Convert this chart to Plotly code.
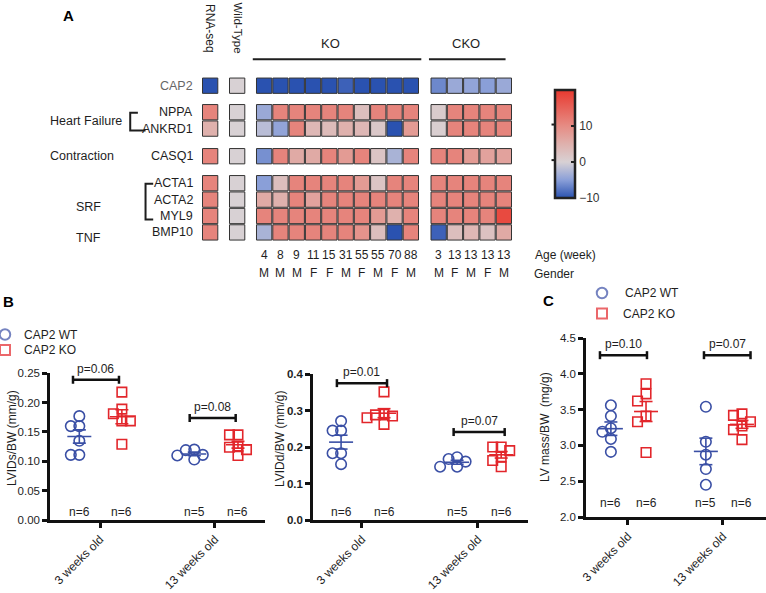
import numpy as np
import plotly.graph_objects as go

W, H = 766, 593
FONT = "Liberation Sans, Arial, Helvetica, sans-serif"
BLUE = "#3a4fa5"
RED = "#e2262b"
INK = "#1e1e1e"

# ---------------- data: heatmap (panel A) ----------------
genes = ["CAP2", "NPPA", "ANKRD1", "CASQ1", "ACTA1", "ACTA2", "MYL9", "BMP10"]
rna_seq = [-10, 11, 5, 11, 11, 11, 11, 11]
wild_type = [0, 0, 0, 0, 0, 0, 0, 0]
ko_age = [4, 8, 9, 11, 15, 31, 55, 55, 70, 88]
ko_gender = ["M", "M", "M", "F", "F", "M", "F", "M", "F", "M"]
cko_age = [3, 13, 13, 13, 13]
cko_gender = ["M", "F", "M", "F", "M"]
ko_values = [
    [-10, -10, -10, -10, -10, -9, -10, -10, -10, -10],   # CAP2
    [-4, 11, 11, 11, 11, 11, 3, 11, 11, 11],             # NPPA
    [-2, -4.5, 11, 4, 3.5, 5, 4, 1.5, -10, 8],           # ANKRD1
    [-6, 11, 6, 6, 11, 8, 11, 2, -3, 11],                # CASQ1
    [-5, 3, 11, 11, 11, 11, 8, 2, 11, 11],               # ACTA1
    [6, 5, 11, 7, 11, 11, 11, 11, 11, 11],               # ACTA2
    [11, 11, 11, 11, 11, 11, 11, 8, 5, 11],              # MYL9
    [-3, 11, 11, 11, 11, 11, 9, 3, -10, 11],             # BMP10
]
cko_values = [
    [-6.5, -4, -4.5, -5, -4],
    [1, 11, 11, 11, 11],
    [0.5, 11, 11, 11, 11],
    [11, 11, 8, 7, 7],
    [11, 11, 11, 11, 11],
    [11, 11, 11, 11, 11],
    [11, 11, 11, 11, 18],
    [-9, 3, 4, 2.5, 6],
]
colorbar_ticks = [-10, 0, 10]

# ---------------- data: dot plots (panels B, C) ----------------
groups = ["3 weeks old", "13 weeks old"]
legend_names = ["CAP2 WT", "CAP2 KO"]
lvids_wt3 = [0.177, 0.160, 0.160, 0.135, 0.111, 0.111]
lvids_ko3 = [0.218, 0.189, 0.181, 0.169, 0.169, 0.129]
lvids_wt13 = [0.120, 0.119, 0.111, 0.110, 0.103]
lvids_ko13 = [0.145, 0.145, 0.125, 0.124, 0.120, 0.110]
lvidd_wt3 = [0.271, 0.245, 0.245, 0.183, 0.183, 0.153]
lvidd_ko3 = [0.351, 0.290, 0.288, 0.285, 0.280, 0.262]
lvidd_wt13 = [0.172, 0.167, 0.160, 0.146, 0.146]
lvidd_ko13 = [0.200, 0.200, 0.190, 0.173, 0.163, 0.146]
lvmass_wt3 = [3.56, 3.41, 3.24, 3.19, 3.09, 2.91]
lvmass_ko3 = [3.86, 3.72, 3.62, 3.41, 3.33, 2.90]
lvmass_wt13 = [3.54, 3.05, 2.87, 2.67, 2.45]
lvmass_ko13 = [3.44, 3.42, 3.33, 3.27, 3.22, 3.08]
pvals_lvids = ["p=0.06", "p=0.08"]
pvals_lvidd = ["p=0.01", "p=0.07"]
pvals_lvmass = ["p=0.10", "p=0.07"]


def X(p):
    return p / W


def Y(p):
    return 1 - p / H


fig = go.Figure()
ann = []
shapes = []


def text(x, y, s, size=12, color=INK, xanchor="center", angle=0, bold=False):
    ann.append(dict(x=X(x), y=Y(y), xref="paper", yref="paper", text=("<b>%s</b>" % s) if bold else s,
                    showarrow=False, xanchor=xanchor, yanchor="middle", textangle=angle,
                    font=dict(family=FONT, size=size, color=color)))


def pline(pts, width=2.0, color=INK):
    path = "M " + " L ".join("%.2f,%.2f" % (X(a), Y(b)) for a, b in pts)
    shapes.append(dict(type="path", xref="paper", yref="paper", path=path,
                       line=dict(color=color, width=width)))


# ---------------- panel A: heatmap as squares on a full-figure pixel axis ----------------
pitch_x, pitch_y = 16.3, 16.4
row_groups = [(77.5, 1), (104, 2), (148, 1), (175, 4)]
row_y = [s + pitch_y * (i + 0.5) for s, n in row_groups for i in range(n)]
blocks = [(202, [[v] for v in rna_seq]), (229, [[v] for v in wild_type]),
          (256, ko_values), (430.5, cko_values)]
cx, cy, cv = [], [], []
for x0, mat in blocks:
    for r, yc in enumerate(row_y):
        for c, v in enumerate(mat[r]):
            cx.append(x0 + pitch_x * (c + 0.5))
            cy.append(yc)
            cv.append(v)
fig.add_trace(go.Scatter(x=cx, y=cy, mode="markers", xaxis="x4", yaxis="y4", cliponaxis=False,
                         hoverinfo="skip",
                         marker=dict(symbol="square", size=pitch_x - 1.0, color=cv, coloraxis="coloraxis",
                                     line=dict(color="#333333", width=1))))

for g, yc in zip(genes, row_y):
    text(195, yc, g, size=12.5, color="#666666" if g == "CAP2" else INK, xanchor="right")
text(48, 120.5, "Heart Failure", size=12.5, xanchor="left")
text(48, 156, "Contraction", size=12.5, xanchor="left")
text(88, 207, "SRF", size=12.5)
text(88, 238, "TNF", size=12.5)
pline([(135, 110.5), (129.5, 110.5), (129.5, 133), (143, 133)], width=2)
pline([(155, 182.5), (143, 182.5), (143, 221), (150, 221)], width=2)

text(210, 28, "RNA-seq", angle=90)
text(237, 27.5, "Wild-Type", size=11.5, angle=90)
text(330, 43, "KO", size=13)
text(466, 43, "CKO", size=13)
pline([(256, 62), (419, 62)], width=2)
pline([(431, 62), (507, 62)], width=2)
text(68, 16, "A", size=15, bold=True, color="#000")

for i, (a, gd) in enumerate(zip(ko_age, ko_gender)):
    xc = 256 + pitch_x * (i + 0.5)
    text(xc, 255, str(a))
    text(xc, 272.5, gd)
for i, (a, gd) in enumerate(zip(cko_age, cko_gender)):
    xc = 430.5 + pitch_x * (i + 0.5)
    text(xc, 255, str(a))
    text(xc, 272.5, gd)
text(533, 254.5, "Age (week)", xanchor="left")
text(532, 274, "Gender", xanchor="left")

# colorbar tick dashes on left side
cb_top, cb_bot, cb_min, cb_max = 90, 198, -10, 20
for t in colorbar_ticks[1:]:
    yy = cb_bot - (t - cb_min) / (cb_max - cb_min) * (cb_bot - cb_top)
    pline([(555, yy), (560, yy)], width=2)

# ---------------- panels B, C: dot plots ----------------
charts = [
    dict(n=1, dx=(50, 265), dy=(373.3, 520), xr=(-0.435, 1.435), yr=(0, 0.25), dtick=0.05, fmt=".2f",
         data=[lvids_wt3, lvids_ko3, lvids_wt13, lvids_ko13], pv=pvals_lvids,
         br=[(-0.235, 0.165, 0.239), (0.78, 1.18, 0.174)], ny=512, bold=False,
         title="LVIDs/BW (mm/g)", tx=12, ty=438),
    dict(n=2, dx=(313, 528), dy=(374, 520), xr=(-0.422, 1.431), yr=(0, 0.4), dtick=0.1, fmt=".1f",
         data=[lvidd_wt3, lvidd_ko3, lvidd_wt13, lvidd_ko13], pv=pvals_lvidd,
         br=[(-0.216, 0.216, 0.375), (0.79, 1.23, 0.241)], ny=512, bold=True,
         title="LVIDd/BW (mm/g)", tx=280, ty=439),
    dict(n=3, dx=(586, 766), dy=(338, 517), xr=(-0.442, 1.453), yr=(2.0, 4.5), dtick=0.5, fmt=".1f",
         data=[lvmass_wt3, lvmass_ko3, lvmass_wt13, lvmass_ko13], pv=pvals_lvmass,
         br=[(-0.295, 0.2, 4.26), (0.8, 1.29, 4.26)], ny=503, bold=False,
         title="LV mass/BW  (mg/g)", tx=545, ty=427),
]
centers = [-0.18, 0.19, 0.82, 1.2]


def swarm(vals, ysc, step=8.5):
    placed = []
    offs = []
    for v in vals:
        yp = v * ysc
        for k in [0, -1, 1, -2, 2, -3, 3]:
            xo = k * step
            if all((xo - a) ** 2 + (yp - b) ** 2 >= step ** 2 for a, b in placed):
                break
        placed.append((xo, yp))
        offs.append(xo)
    return offs


layout_axes = {}
for ch in charts:
    n = ch["n"]
    xs = "x" if n == 1 else "x%d" % n
    ys = "y" if n == 1 else "y%d" % n
    xsc = (ch["dx"][1] - ch["dx"][0]) / (ch["xr"][1] - ch["xr"][0])
    ysc = (ch["dy"][1] - ch["dy"][0]) / (ch["yr"][1] - ch["yr"][0])
    for gi, vals in enumerate(ch["data"]):
        is_ko = gi % 2 == 1
        col = RED if is_ko else BLUE
        c = centers[gi]
        offs = swarm(vals, ysc)
        fig.add_trace(go.Scatter(
            x=[c + o / xsc for o in offs], y=vals, mode="markers", xaxis=xs, yaxis=ys,
            cliponaxis=False, hoverinfo="skip",
            marker=dict(symbol="square-open" if is_ko else "circle-open", size=9.5 if is_ko else 10.5,
                        color=col, line=dict(width=1.6, color=col))))
        m = float(np.mean(vals))
        s = float(np.std(vals, ddof=1) / np.sqrt(len(vals)))
        hw, cw = 12 / xsc, 6.5 / xsc
        lx = [c - hw, c + hw, None, c, c, None, c - cw, c + cw, None, c - cw, c + cw]
        ly = [m, m, None, m - s, m + s, None, m + s, m + s, None, m - s, m - s]
        fig.add_trace(go.Scatter(x=lx, y=ly, mode="lines", xaxis=xs, yaxis=ys, cliponaxis=False,
                                 hoverinfo="skip", line=dict(color=col, width=1.6)))
        ann.append(dict(x=c, y=Y(ch["ny"]), xref=xs, yref="paper", text="n=%d" % len(vals),
                        showarrow=False, yanchor="middle", font=dict(family=FONT, size=12, color=INK)))
    capd = 4 / ysc
    for (x0, x1, yb), p in zip(ch["br"], ch["pv"]):
        shapes.append(dict(type="line", xref=xs, yref=ys, x0=x0, x1=x1, y0=yb, y1=yb,
                           line=dict(color="#111", width=2.5)))
        for xe in (x0, x1):
            shapes.append(dict(type="line", xref=xs, yref=ys, x0=xe, x1=xe, y0=yb - capd, y1=yb + capd,
                               line=dict(color="#111", width=2.5)))
        ann.append(dict(x=(x0 + x1) / 2, y=yb, xref=xs, yref=ys, text=p, showarrow=False,
                        yanchor="middle", yshift=11, font=dict(family=FONT, size=12, color=INK)))
    text(ch["tx"], ch["ty"], ch["title"], angle=-90)
    axcommon = dict(showline=True, linewidth=2.5, linecolor="#111", ticks="outside", tickwidth=2.5,
                    tickcolor="#111", ticklen=5, showgrid=False, zeroline=False, fixedrange=True)
    layout_axes["xaxis" if n == 1 else "xaxis%d" % n] = dict(
        domain=[X(ch["dx"][0]), X(ch["dx"][1])], range=list(ch["xr"]), anchor=ys,
        tickvals=[0, 1], ticktext=groups, tickangle=-45,
        tickfont=dict(family=FONT, size=12, color=INK), **axcommon)
    layout_axes["yaxis" if n == 1 else "yaxis%d" % n] = dict(
        domain=[Y(ch["dy"][1]), Y(ch["dy"][0])], range=list(ch["yr"]), anchor=xs,
        tick0=ch["yr"][0], dtick=ch["dtick"], tickformat=ch["fmt"],
        tickfont=dict(family=FONT, size=11.5, color=INK), **axcommon)
    if ch["bold"]:
        layout_axes["yaxis%d" % n]["tickprefix"] = "<b>"
        layout_axes["yaxis%d" % n]["ticksuffix"] = "</b>"

# legends (panel B and C), on pixel overlay axis
leg_pts = [(5, 334.5, 0), (5, 350, 1), (602, 293, 0), (602, 313.5, 1)]
fig.add_trace(go.Scatter(
    x=[p[0] for p in leg_pts], y=[p[1] for p in leg_pts], mode="markers", xaxis="x4", yaxis="y4",
    cliponaxis=False, hoverinfo="skip",
    marker=dict(symbol=["square-open" if p[2] else "circle-open" for p in leg_pts],
                size=[10 if p[2] else 10.5 for p in leg_pts],
                color=[RED if p[2] else BLUE for p in leg_pts],
                line=dict(width=2, color=[RED if p[2] else BLUE for p in leg_pts]))))
text(22, 334.5, legend_names[0], xanchor="left")
text(22, 350, legend_names[1], xanchor="left")
text(623, 293, legend_names[0], xanchor="left")
text(621, 313.5, legend_names[1], xanchor="left")
text(8, 301, "B", size=15, bold=True, color="#000")
text(548, 300, "C", size=15, bold=True, color="#000")

fig.update_layout(
    width=W, height=H, margin=dict(l=0, r=0, t=0, b=0, autoexpand=False),
    paper_bgcolor="white", plot_bgcolor="rgba(0,0,0,0)", showlegend=False,
    font=dict(family=FONT, size=12, color=INK),
    xaxis4=dict(domain=[0, 1], range=[0, W], visible=False, anchor="y4", fixedrange=True),
    yaxis4=dict(domain=[0, 1], range=[H, 0], visible=False, anchor="x4", fixedrange=True),
    coloraxis=dict(
        cmin=cb_min, cmax=cb_max,
        colorscale=[[0.0, "#2a52b0"], [1 / 6, "#8a9fd8"], [1 / 3, "#d8d1d4"], [0.5, "#dfb1ad"],
                    [2 / 3, "#e68c84"], [1.0, "#e8392f"]],
        colorbar=dict(x=X(555), xanchor="left", y=Y(cb_top), yanchor="top", len=cb_bot - cb_top,
                      lenmode="pixels", thickness=20, xpad=0, ypad=0, outlinewidth=2.5,
                      outlinecolor="#222", tickvals=colorbar_ticks, ticks="inside", ticklen=5,
                      tickwidth=2, tickcolor="#222", tickfont=dict(family=FONT, size=12, color="#333"))),
    annotations=ann, shapes=shapes, **layout_axes)

fig.write_html("out.html", config={"displayModeBar": False},
               post_script="document.body.style.margin='0';document.body.style.overflow='hidden';")
